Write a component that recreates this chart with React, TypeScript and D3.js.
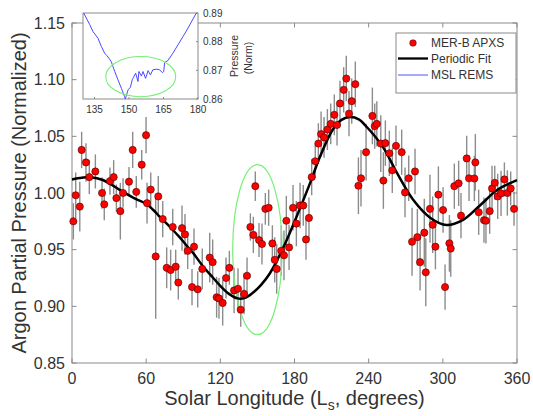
import React from "react";
import * as d3 from "d3";

// MER-B APXS argon measurements (Ls in degrees, normalized pressure, error half-width)
const obsLs = [1.1, 3.0, 6.3, 7.8, 11.3, 14.0, 18.9, 24.3, 26.1, 30.7, 33.7, 35.9, 39.1, 41.3, 46.1, 49.1, 52.0, 56.4, 59.9, 60.7, 63.7, 67.7, 69.8, 73.4, 76.6, 79.8, 81.5, 83.9, 86.0, 89.0, 91.4, 93.6, 97.1, 98.7, 101.7, 105.4, 111.4, 113.8, 117.0, 118.9, 121.9, 124.6, 127.3, 131.1, 134.3, 136.5, 139.2, 141.6, 144.3, 146.7, 148.3, 151.3, 153.7, 156.4, 159.1, 162.1, 164.0, 165.6, 169.3, 171.5, 173.4, 175.6, 178.8, 181.5, 184.5, 187.1, 189.3, 191.7, 193.9, 196.8, 199.3, 201.5, 203.9, 206.6, 209.3, 212.2, 214.4, 216.8, 219.8, 221.9, 224.1, 226.3, 229.2, 231.7, 233.8, 237.9, 243.0, 244.9, 246.6, 249.8, 251.9, 253.5, 256.7, 259.1, 262.1, 266.7, 269.4, 272.4, 275.1, 277.5, 279.4, 281.6, 285.0, 286.2, 289.6, 291.8, 294.0, 296.4, 300.2, 301.8, 305.3, 306.4, 309.3, 312.8, 314.7, 319.3, 321.2, 325.5, 326.3, 329.0, 333.3, 334.9, 337.9, 339.8, 342.0, 344.4, 347.1, 349.8, 352.2, 354.9, 357.6];
const obsVal = [0.975, 0.998, 0.988, 1.038, 1.027, 1.014, 1.019, 1.0, 0.99, 1.0105, 1.014, 0.9955, 0.984, 1.0, 1.01, 1.038, 1.001, 1.025, 1.051, 0.991, 1.003, 0.944, 0.997, 0.977, 0.934, 0.932, 0.97, 0.935, 0.921, 0.969, 0.9635, 0.949, 0.917, 0.9526, 0.915, 0.933, 0.943, 0.939, 0.908, 0.907, 0.903, 0.925, 0.934, 0.914, 0.9155, 0.897, 0.911, 0.927, 0.97, 0.963, 1.006, 0.9585, 0.955, 0.986, 0.987, 0.9555, 0.941, 0.933, 0.949, 0.945, 0.9755, 0.952, 0.987, 0.973, 0.989, 0.989, 0.959, 0.978, 1.014, 1.028, 1.0436, 1.052, 1.049, 1.056, 1.061, 1.069, 1.06, 1.079, 1.091, 1.101, 1.07, 1.081, 1.096, 1.0064, 1.013, 1.036, 1.068, 1.059, 1.061, 1.0436, 1.011, 1.044, 1.035, 1.02, 1.0416, 1.036, 1.0005, 1.013, 0.957, 1.019, 0.961, 0.939, 0.965, 0.93, 0.986, 0.972, 0.9526, 0.9985, 0.985, 0.917, 0.9556, 0.951, 1.006, 1.0085, 0.98, 1.0305, 1.013, 1.0128, 1.027, 0.983, 0.976, 0.9755, 0.984, 1.004, 1.009, 0.997, 0.9996, 1.012, 1.0, 1.004, 0.986];
const obsErr = [0.016, 0.02, 0.022, 0.016, 0.017, 0.015, 0.015, 0.014, 0.014, 0.012, 0.015, 0.012, 0.025, 0.013, 0.013, 0.016, 0.014, 0.013, 0.016, 0.018, 0.015, 0.055, 0.018, 0.016, 0.018, 0.018, 0.016, 0.015, 0.015, 0.02, 0.018, 0.016, 0.016, 0.016, 0.016, 0.018, 0.022, 0.02, 0.018, 0.018, 0.02, 0.018, 0.015, 0.02, 0.018, 0.015, 0.018, 0.016, 0.012, 0.016, 0.013, 0.015, 0.018, 0.014, 0.016, 0.016, 0.02, 0.022, 0.022, 0.022, 0.022, 0.02, 0.02, 0.02, 0.02, 0.018, 0.018, 0.018, 0.016, 0.015, 0.018, 0.02, 0.018, 0.018, 0.018, 0.018, 0.018, 0.02, 0.02, 0.02, 0.02, 0.02, 0.02, 0.025, 0.025, 0.025, 0.025, 0.02, 0.02, 0.025, 0.025, 0.02, 0.02, 0.02, 0.018, 0.02, 0.022, 0.02, 0.03, 0.02, 0.025, 0.025, 0.03, 0.03, 0.03, 0.025, 0.02, 0.025, 0.02, 0.02, 0.025, 0.025, 0.02, 0.02, 0.02, 0.02, 0.02, 0.02, 0.025, 0.02, 0.02, 0.02, 0.02, 0.02, 0.015, 0.02, 0.02, 0.015, 0.02, 0.015, 0.015];

// periodic fit
const fitLs = [0, 8, 15, 25, 38.8, 51, 60, 65.8, 71, 79.3, 87, 92.8, 98, 106.2, 114.3, 120, 127, 134, 140, 146, 153, 160, 171, 182, 192.6, 200.6, 211, 218, 225, 232, 238.7, 251.6, 263, 276, 290, 303, 316, 330, 344, 360];
const fitVal = [1.012, 1.0135, 1.014, 1.0115, 1.0026, 0.995, 0.9905, 0.985, 0.979, 0.97, 0.961, 0.9535, 0.947, 0.935, 0.925, 0.918, 0.911, 0.907, 0.9075, 0.9117, 0.919, 0.929, 0.952, 0.98, 1.0087, 1.032, 1.056, 1.0645, 1.067, 1.065, 1.058, 1.0405, 1.0175, 0.994, 0.978, 0.9717, 0.976, 0.989, 1.0026, 1.0114];

// MSL REMS inset
const remsLs = [130.3, 132.9, 134.3, 136.5, 138, 139.4, 140.3, 141.3, 142.3, 143.8, 145.2, 146.7, 148.1, 148.4, 149.6, 150.6, 151.4, 152, 152.9, 153.9, 154.3, 155.4, 156.1, 157.2, 158.3, 159.3, 160.4, 161.9, 163.3, 164.5, 165.1, 165.5, 166.9, 169.1, 171.3, 173.5, 175.7, 177.8, 179.3];
const remsVal = [0.89, 0.886, 0.8836, 0.8812, 0.8783, 0.876, 0.8752, 0.8742, 0.873, 0.8696, 0.8667, 0.8637, 0.8608, 0.86, 0.8632, 0.8641, 0.8667, 0.8676, 0.869, 0.8661, 0.8696, 0.868, 0.8696, 0.8672, 0.8699, 0.8684, 0.8702, 0.8704, 0.8702, 0.8692, 0.8696, 0.8727, 0.8734, 0.876, 0.8789, 0.8818, 0.8848, 0.8879, 0.89];

const xTicks = [0, 60, 120, 180, 240, 300, 360];
const yTicks = [0.85, 0.9, 0.95, 1.0, 1.05, 1.1, 1.15];
const insetXTicks = [135, 150, 165, 180];
const insetYTicks = [0.86, 0.87, 0.88, 0.89];
const legendLabels = ["MER-B APXS", "Periodic Fit", "MSL REMS"];

const W = 533;
const H = 416;
const font = "'Liberation Sans', Arial, sans-serif";
const axisGray = "#8a8a8a";
const textColor = "#333";

export default function App() {
  const x = d3.scaleLinear().domain([0, 360]).range([72, 517]);
  const y = d3.scaleLinear().domain([0.85, 1.15]).range([363, 23]);
  const ix = d3.scaleLinear().domain([130, 180]).range([83, 198]);
  const iy = d3.scaleLinear().domain([0.86, 0.89]).range([99, 13]);

  const fitLine = d3
    .line<number>()
    .x((d, i) => x(fitLs[i]))
    .y((d) => y(d))
    .curve(d3.curveCatmullRom);

  const remsLine = d3
    .line<number>()
    .x((d, i) => ix(remsLs[i]))
    .y((d) => iy(d));

  const [x0, x1] = x.range();
  const [y0, y1] = y.range();
  const tl = 4.5;

  return (
    <svg
      width={W}
      height={H}
      style={{ position: "absolute", left: 0, top: 0, background: "#fff" }}
      fontFamily={font}
    >
      <rect width={W} height={H} fill="#fff" />

      {/* main axes box + inward ticks */}
      <rect x={x0} y={y1} width={x1 - x0} height={y0 - y1} fill="none" stroke={axisGray} />
      {xTicks.map((t) => (
        <g key={"xt" + t}>
          <line x1={x(t)} x2={x(t)} y1={y0} y2={y0 - tl} stroke={axisGray} />
          <line x1={x(t)} x2={x(t)} y1={y1} y2={y1 + tl} stroke={axisGray} />
          <text x={x(t)} y={384} textAnchor="middle" fontSize={16} fill={textColor}>
            {t}
          </text>
        </g>
      ))}
      {yTicks.map((t) => (
        <g key={"yt" + t}>
          <line x1={x0} x2={x0 + tl} y1={y(t)} y2={y(t)} stroke={axisGray} />
          <line x1={x1} x2={x1 - tl} y1={y(t)} y2={y(t)} stroke={axisGray} />
          <text x={65} y={y(t) + 5.5} textAnchor="end" fontSize={16} fill={textColor}>
            {t.toFixed(2)}
          </text>
        </g>
      ))}

      <text x={(x0 + x1) / 2} y={405} textAnchor="middle" fontSize={20} fill={textColor}>
        Solar Longitude (L
        <tspan fontSize={14} dy={5}>s</tspan>
        <tspan dy={-5}>, degrees)</tspan>
      </text>
      <text
        transform={`translate(26, ${(y0 + y1) / 2}) rotate(-90)`}
        textAnchor="middle"
        fontSize={20}
        fill={textColor}
      >
        Argon Partial Pressure (Normalized)
      </text>

      {/* error bars */}
      {obsVal.map((v, i) => (
        <line
          key={"eb" + i}
          x1={x(obsLs[i])}
          x2={x(obsLs[i])}
          y1={y(v - obsErr[i])}
          y2={y(v + obsErr[i])}
          stroke="#8c8c8c"
          strokeWidth={1.4}
        />
      ))}

      {/* green ellipse around the REMS window */}
      <ellipse
        cx={x(150)}
        cy={y(0.95)}
        rx={x(170) - x(150)}
        ry={y(0.95) - y(1.025)}
        fill="none"
        stroke="#77f077"
        strokeWidth={1.2}
      />

      <path d={fitLine(fitVal) || ""} fill="none" stroke="#000" strokeWidth={2.5} />

      {obsVal.map((v, i) => (
        <circle
          key={"pt" + i}
          cx={x(obsLs[i])}
          cy={y(v)}
          r={3.6}
          fill="#ff0000"
          stroke="#4a0000"
          strokeWidth={0.6}
        />
      ))}

      {/* legend */}
      <rect x={396} y={33} width={120} height={60} fill="#fff" stroke={axisGray} />
      <circle cx={413} cy={43} r={3.3} fill="#ff0000" stroke="#4a0000" strokeWidth={0.5} />
      <line x1={398} x2={428} y1={58.5} y2={58.5} stroke="#000" strokeWidth={2.3} />
      <line x1={398} x2={428} y1={75} y2={75} stroke="#5050ff" strokeWidth={1} />
      {legendLabels.map((s, i) => (
        <text key={s} x={431} y={[47, 63, 79][i]} fontSize={12} fill={textColor}>
          {s}
        </text>
      ))}

      {/* inset */}
      <rect x={83} y={13} width={115} height={86} fill="#fff" stroke={axisGray} />
      {insetXTicks.map((t) => (
        <g key={"ixt" + t}>
          <line x1={ix(t)} x2={ix(t)} y1={99} y2={97} stroke={axisGray} />
          <text x={ix(t)} y={113} textAnchor="middle" fontSize={10} fill={textColor}>
            {t}
          </text>
        </g>
      ))}
      {insetYTicks.map((t) => (
        <g key={"iyt" + t}>
          <line x1={198} x2={196} y1={iy(t)} y2={iy(t)} stroke={axisGray} />
          <text x={203} y={iy(t) + 3.5} fontSize={10} fill={textColor}>
            {t.toFixed(2)}
          </text>
        </g>
      ))}
      <text transform="translate(238, 56) rotate(-90)" textAnchor="middle" fontSize={10.5} fill={textColor}>
        Pressure
      </text>
      <text transform="translate(252, 58) rotate(-90)" textAnchor="middle" fontSize={10.5} fill={textColor}>
        (Norm)
      </text>
      <path d={remsLine(remsVal) || ""} fill="none" stroke="#4a4aff" strokeWidth={1} />
      <ellipse
        cx={ix(155.1)}
        cy={iy(0.8678)}
        rx={ix(170.3) - ix(155.1)}
        ry={iy(0.8678) - iy(0.8748)}
        fill="none"
        stroke="#77f077"
        strokeWidth={1.1}
      />
    </svg>
  );
}
